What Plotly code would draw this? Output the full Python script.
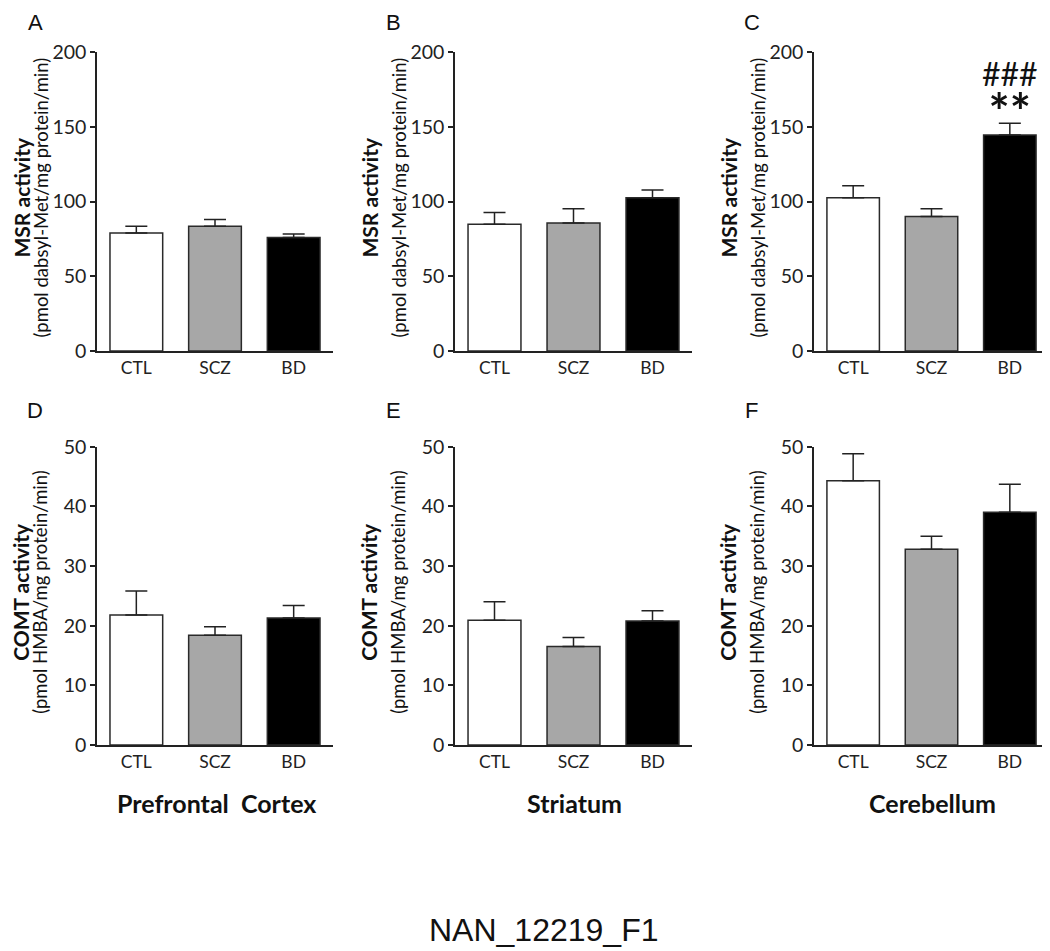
import plotly.graph_objects as go

# ---------------- data ----------------
categories = ["CTL", "SCZ", "BD"]
bar_colors = ["#ffffff", "#a7a7a7", "#000000"]

msr_pfc = [79, 83.5, 76]
msr_pfc_err = [4.5, 4.5, 2.3]
msr_str = [84.7, 85.6, 102.5]
msr_str_err = [8.0, 9.6, 5.2]
msr_cb = [102.5, 90, 144.5]
msr_cb_err = [8.0, 5.2, 7.8]

comt_pfc = [21.8, 18.4, 21.3]
comt_pfc_err = [4.0, 1.4, 2.1]
comt_str = [20.9, 16.5, 20.8]
comt_str_err = [3.1, 1.5, 1.7]
comt_cb = [44.3, 32.8, 39.0]
comt_cb_err = [4.5, 2.2, 4.7]

panel_letters = ["A", "B", "C", "D", "E", "F"]
region_labels = ["Prefrontal&nbsp; Cortex", "Striatum", "Cerebellum"]
msr_title = "MSR activity"
msr_units = "(pmol dabsyl-Met/mg protein/min)"
comt_title = "COMT activity"
comt_units = "(pmol HMBA/mg protein/min)"
msr_ticks = [0, 50, 100, 150, 200]
comt_ticks = [0, 10, 20, 30, 40, 50]
sig_hash = "###"
sig_star = "**"
footer = "NAN_12219_F1"

# ---------------- layout geometry ----------------
# The page body adds an 8px offset; figure sized so it ends at the window edge.
OFF = 8
W, H = 1050 - OFF, 951 - OFF
def sx(x):
    return (x - OFF) / W
def sy(y):
    return 1 - (y - OFF) / H

col_px = [(97, 333), (455, 692), (814, 1049)]
row_px = [(52, 351), (446.7, 745)]
letter_top = [8, 396]

panels = [
    (msr_pfc, msr_pfc_err, 0, 0),
    (msr_str, msr_str_err, 0, 1),
    (msr_cb, msr_cb_err, 0, 2),
    (comt_pfc, comt_pfc_err, 1, 0),
    (comt_str, comt_str_err, 1, 1),
    (comt_cb, comt_cb_err, 1, 2),
]

fig = go.Figure()
AX = "#222222"
tick_font = dict(family="Lato", size=19.5, color="#222222")
cat_font = dict(family="Lato", size=17.5, color="#222222")

annotations = []
for i, (vals, errs, r, c) in enumerate(panels):
    n = i + 1
    xa = "x" if n == 1 else f"x{n}"
    ya = "y" if n == 1 else f"y{n}"
    fig.add_trace(go.Bar(
        x=categories, y=vals, xaxis=xa, yaxis=ya,
        marker=dict(color=bar_colors, line=dict(color="#2a2a2a", width=1.5)),
        width=0.67,
        error_y=dict(type="data", symmetric=False, array=errs,
                     arrayminus=[0] * len(errs), color="#222222",
                     thickness=1.5, width=11),
        showlegend=False, hoverinfo="skip",
    ))
    x0, x1 = col_px[c]
    y0, y1 = row_px[r]
    xkey = "xaxis" if n == 1 else f"xaxis{n}"
    ykey = "yaxis" if n == 1 else f"yaxis{n}"
    ticks = msr_ticks if r == 0 else comt_ticks
    fig.update_layout(**{
        xkey: dict(domain=[sx(x0), min(1, sx(x1))], anchor=ya, type="category",
                   range=[-0.5, 2.5], showline=True, linecolor=AX, linewidth=1.5,
                   ticks="", showgrid=False, zeroline=False, tickfont=cat_font,
                   fixedrange=True, automargin=False),
        ykey: dict(domain=[sy(y1), sy(y0)], anchor=xa, range=[0, ticks[-1]],
                   tickvals=ticks, showline=True, linecolor=AX, linewidth=1.5,
                   ticks="outside", ticklen=5, tickwidth=1.5, tickcolor=AX,
                   showgrid=False, zeroline=False, tickfont=tick_font,
                   fixedrange=True, automargin=False),
    })
    # panel letter
    annotations.append(dict(
        text=panel_letters[i], xref="paper", yref="paper",
        x=sx(x0 - 62), y=sy(letter_top[r]), xanchor="center", yanchor="top",
        showarrow=False, font=dict(family="Liberation Sans", size=22, color="#111111")))
    # y titles
    title = msr_title if r == 0 else comt_title
    units = msr_units if r == 0 else comt_units
    yc = (y0 + y1) / 2 - 4
    bx = max(x0 - 86, 21)
    annotations.append(dict(
        text=title, xref="paper", yref="paper", x=sx(bx), y=sy(yc),
        xanchor="center", yanchor="middle", textangle=-90, showarrow=False,
        font=dict(family="Lato", size=21, weight="bold", color="#111111")))
    annotations.append(dict(
        text=units, xref="paper", yref="paper", x=sx(x0 - 57), y=sy(yc),
        xanchor="center", yanchor="middle", textangle=-90, showarrow=False,
        font=dict(family="Lato", size=18.5, color="#111111")))

# region labels
for c, lab in enumerate(region_labels):
    x0, x1 = col_px[c]
    annotations.append(dict(
        text=lab, xref="paper", yref="paper", x=sx((x0 + x1) / 2 + 1), y=sy(803),
        xanchor="center", yanchor="middle", showarrow=False,
        font=dict(family="Lato", size=25, weight="bold", color="#111111")))

# significance marks on panel C, BD bar (one text block, two lines)
annotations.append(dict(
    text=(f"<span style='font-size:32px'>{sig_hash}</span><br>"
          f"<span style='font-size:50px'><b>{sig_star}</b></span>"),
    xref="x3", yref="paper", x="BD", y=sy(97),
    xanchor="center", yanchor="middle", showarrow=False,
    font=dict(family="Lato", size=34, color="#111111")))

# footer
annotations.append(dict(
    text=footer, xref="paper", yref="paper", x=sx(543), y=sy(930),
    xanchor="center", yanchor="middle", showarrow=False,
    font=dict(family="Liberation Sans", size=32, color="#111111")))

fig.update_layout(
    width=W, height=H, margin=dict(l=0, r=0, t=0, b=0, pad=0),
    paper_bgcolor="white", plot_bgcolor="white",
    bargap=0.32, annotations=annotations,
)

fig.write_html("out.html")
